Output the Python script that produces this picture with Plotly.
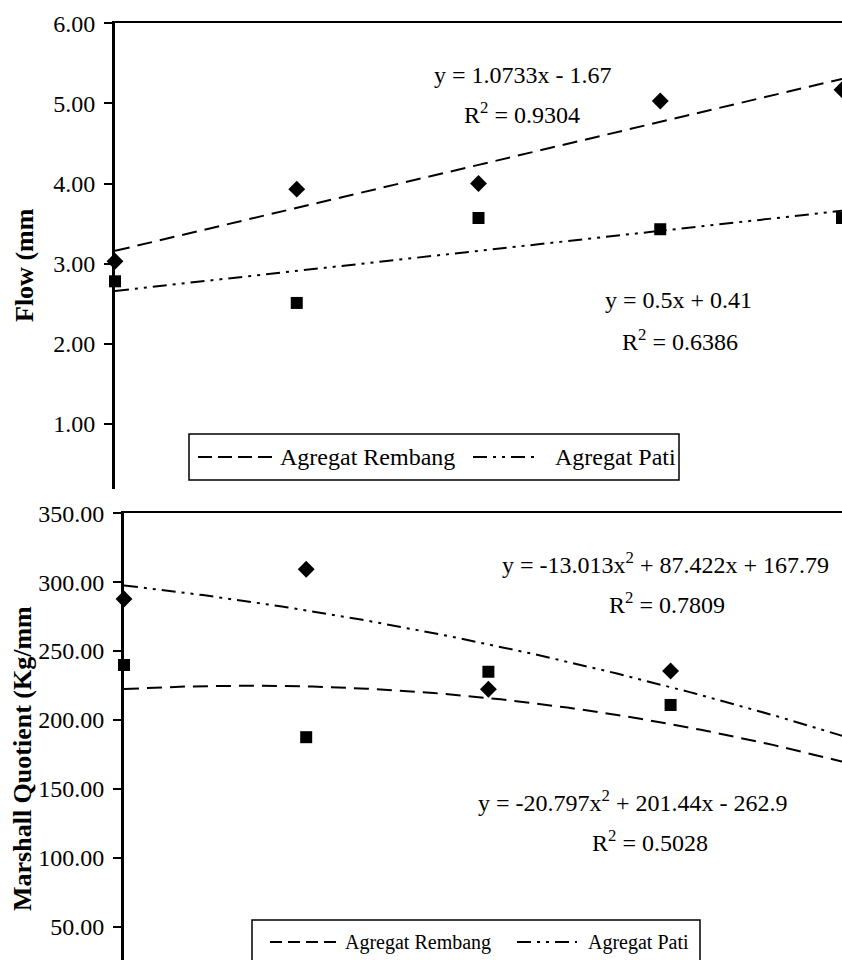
import numpy as np
import plotly.graph_objects as go

W, H = 842, 960
FONT = "Liberation Serif, Times New Roman, Times, DejaVu Serif, serif"

# Asphalt content (%) used in both panels
asphalt_content = [4.5, 5.0, 5.5, 6.0, 6.5]

# Flow (mm)
flow_rembang = [3.03, 3.93, 4.00, 5.03, 5.17]
flow_pati = [2.78, 2.51, 3.57, 3.43, 3.57]

# Marshall Quotient (kg/mm)
mq_pati = [287.8, 309.4, 222.3, 235.6, 185.0]
mq_rembang = [239.9, 187.5, 235.0, 210.9, 157.0]

# Trend-line coefficients, highest power first
flow_rembang_fit = [1.0733, -1.67]
flow_pati_fit = [0.5, 0.41]
mq_pati_fit = [-13.013, 87.422, 167.79]
mq_rembang_fit = [-20.797, 201.44, -262.9]

flow_ticks = [1, 2, 3, 4, 5, 6]
mq_ticks = [50, 100, 150, 200, 250, 300, 350]

series_names = ["Agregat Rembang", "Agregat Pati"]

DASH = "15px,8px"
DASHDOT = "14px,6px,3px,6px,3px,6px"


def px(x):
    return x / W


def py(y):
    return 1 - y / H


fig = go.Figure()

fit_x = np.linspace(asphalt_content[0], asphalt_content[-1], 121)


def add_panel(xa, ya, pts_a, sym_a, fit_a, dash_a, pts_b, sym_b, fit_b, dash_b):
    for pts, sym in ((pts_a, sym_a), (pts_b, sym_b)):
        fig.add_trace(go.Scatter(
            x=asphalt_content, y=pts, mode="markers",
            marker=dict(symbol=sym, size=13 if sym == "diamond" else 12,
                        color="black", line=dict(width=0)),
            xaxis=xa, yaxis=ya, cliponaxis=False, showlegend=False,
            hoverinfo="skip"))
    for coef, dash in ((fit_a, dash_a), (fit_b, dash_b)):
        fig.add_trace(go.Scatter(
            x=fit_x, y=np.polyval(coef, fit_x), mode="lines",
            line=dict(color="black", width=2, dash=dash),
            xaxis=xa, yaxis=ya, showlegend=False, hoverinfo="skip"))


# Flow panel: diamonds follow the Rembang line, squares the Pati line
add_panel("x", "y", flow_rembang, "diamond", flow_rembang_fit, DASH,
          flow_pati, "square", flow_pati_fit, DASHDOT)
# Marshall Quotient panel
add_panel("x2", "y2", mq_pati, "diamond", mq_pati_fit, DASHDOT,
          mq_rembang, "square", mq_rembang_fit, DASH)

tickfont = dict(family=FONT, size=24, color="black")
xcommon = dict(side="top", showline=True, linewidth=1.5, linecolor="black",
               showticklabels=False, ticks="", showgrid=False, zeroline=False,
               automargin=False)
ycommon = dict(showline=True, linewidth=3, linecolor="black", ticks="outside",
               ticklen=8, tickwidth=2, tickcolor="black", tickformat=".2f",
               showgrid=False, zeroline=False, tickfont=tickfont,
               ticklabelstandoff=4, automargin=False)

fig.update_layout(
    width=W, height=H,
    margin=dict(l=0, r=0, t=0, b=0, pad=0, autoexpand=False),
    paper_bgcolor="white", plot_bgcolor="white",
    showlegend=False,
    font=dict(family=FONT, color="black"),
    xaxis=dict(domain=[px(115), 1], range=[4.5, 6.5],
               anchor="y", **xcommon),
    yaxis=dict(domain=[py(489), py(23.3)], range=[0.188, 6.0],
               tickvals=flow_ticks, anchor="x", **ycommon),
    xaxis2=dict(domain=[px(124), 1], range=[4.5, 4.5 + 718 / 364.4],
                anchor="y2", **xcommon),
    yaxis2=dict(domain=[0, py(513.3)], range=[25.8, 350.0],
                tickvals=mq_ticks, anchor="x2", **ycommon),
)

annotations = []


def label(text, x, y, size=24, xanchor="center", bold=False, angle=0):
    annotations.append(dict(
        text=f"<b>{text}</b>" if bold else text,
        x=px(x), y=py(y), xref="paper", yref="paper",
        xanchor=xanchor, yanchor="middle", showarrow=False,
        textangle=angle, font=dict(family=FONT, size=size, color="black")))


# axis titles
label("Flow (mm", 24, 265, size=26, bold=True, angle=-90)
label("Marshall Quotient (Kg/mm", 22, 759, size=26, bold=True, angle=-90)

# trend-line equations
label("y = 1.0733x - 1.67", 523, 75)
label("R<sup>2</sup> = 0.9304", 522, 113)
label("y = 0.5x + 0.41", 678, 300)
label("R<sup>2</sup> = 0.6386", 680, 340)
label("y = -13.013x<sup>2</sup> + 87.422x + 167.79", 665, 563)
label("R<sup>2</sup> = 0.7809", 667, 603)
label("y = -20.797x<sup>2</sup> + 201.44x - 262.9", 632, 801)
label("R<sup>2</sup> = 0.5028", 650, 841)

shapes = []


def legend_box(x0, y0, x1, y1, items, size):
    shapes.append(dict(type="rect", xref="paper", yref="paper",
                       x0=px(x0), x1=px(x1), y0=py(y1), y1=py(y0),
                       line=dict(color="black", width=1.5),
                       fillcolor="white", layer="above"))
    for name, dash, sx0, sx1, sy, tx in items:
        shapes.append(dict(type="line", xref="paper", yref="paper",
                           x0=px(sx0), x1=px(sx1), y0=py(sy), y1=py(sy),
                           line=dict(color="black", width=2, dash=dash),
                           layer="above"))
        label(name, tx, sy, size=size, xanchor="left")


legend_box(189, 434, 679, 480, [
    (series_names[0], "14px,6px", 198, 273, 457, 278),
    (series_names[1], DASHDOT, 473, 540, 457, 553),
], 24)
legend_box(252, 920, 700, 975, [
    (series_names[0], "12px,6px", 270, 338, 942, 343),
    (series_names[1], DASHDOT, 517, 577, 942, 586),
], 20)

fig.update_layout(annotations=annotations, shapes=shapes)

fig.write_html("out.html")
